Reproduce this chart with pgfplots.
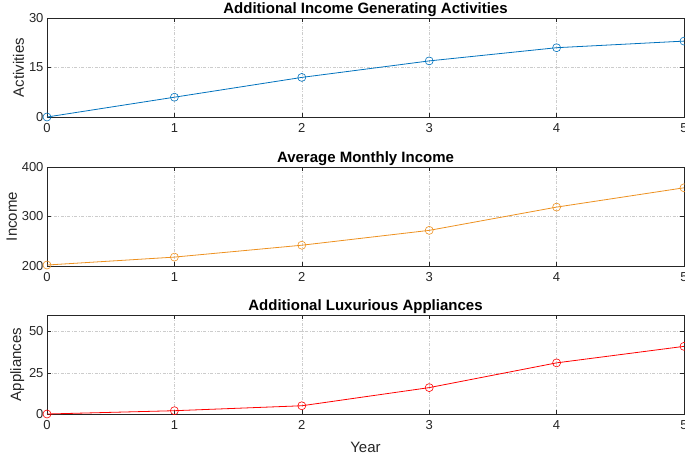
\documentclass[border=0pt]{standalone}
\usepackage{pgfplots}
\pgfplotsset{compat=1.18}
\usepackage{fontspec}
\setmainfont{Liberation Sans}
\definecolor{mblue}{rgb}{0,0.447,0.741}
\definecolor{morange}{rgb}{0.929,0.569,0.125}
\definecolor{axgray}{rgb}{0.15,0.15,0.15}
\pgfplotsset{
  myax/.style={
    scale only axis, width=637pt, height=99pt,
    anchor=south west,
    xmin=0, xmax=5, xtick={0,1,2,3,4,5},
    tick align=inside, major tick length=4pt,
    axis line style={axgray, line width=0.5pt},
    every tick/.style={axgray, line width=0.5pt},
    tick label style={font=\fontsize{13}{14}\selectfont, text=axgray},
    /pgf/number format/assume math mode=true,
    grid=major,
    major grid style={gray!40, line width=0.4pt, dash pattern=on 3pt off 1.5pt on 0.8pt off 1.5pt},
    title style={font=\bfseries\fontsize{15}{17}\selectfont, yshift=-8pt},
    ylabel style={font=\fontsize{15}{17}\selectfont, text=axgray, yshift=-2pt},
    xlabel style={font=\fontsize{15}{17}\selectfont, text=axgray, yshift=-6pt},
    xticklabel style={yshift=-3pt},
    every axis plot/.append style={line width=0.8pt, mark=o, mark size=4pt, mark options={line width=0.6pt}},
    clip=false,
  }
}
\begin{document}
\begin{tikzpicture}
\begin{axis}[myax, at={(47pt,-117pt)}, ymin=0, ymax=30, ytick={0,15,30},
  title={Additional Income Generating Activities}, ylabel={Activities}]
\addplot[mblue] coordinates {(0,0) (1,6) (2,12) (3,17) (4,21) (5,23)};
\end{axis}
\begin{axis}[myax, at={(47pt,-266pt)}, ymin=200, ymax=400, ytick={200,300,400},
  title={Average Monthly Income}, ylabel={Income}]
\addplot[morange] coordinates {(0,202) (1,218) (2,242) (3,272) (4,319) (5,358)};
\end{axis}
\begin{axis}[myax, at={(47pt,-414pt)}, ymin=0, ymax=60, ytick={0,25,50},
  title={Additional Luxurious Appliances}, ylabel={Appliances}, xlabel={Year}]
\addplot[red] coordinates {(0,0) (1,2) (2,5) (3,16) (4,31) (5,41)};
\end{axis}
\pgfresetboundingbox
\path[use as bounding box] (0pt,0pt) rectangle (685pt,-459pt);
\end{tikzpicture}
\end{document}
